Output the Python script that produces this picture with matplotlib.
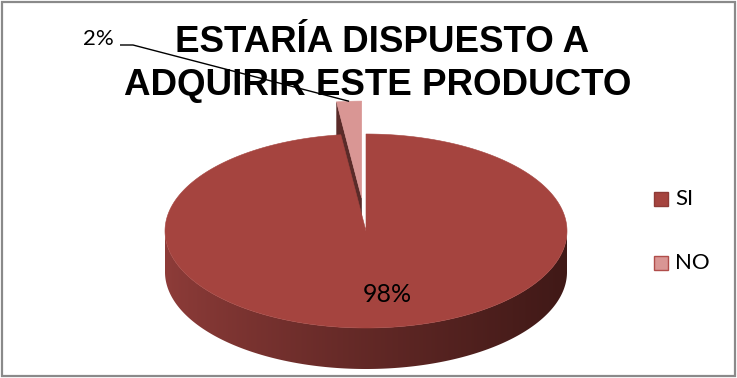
import numpy as np
import matplotlib
matplotlib.use("Agg")
import matplotlib.pyplot as plt
from matplotlib.patches import Polygon, Rectangle

# Survey answers
categories = ["SI", "NO"]
values = [98, 2]
title_lines = ["ESTARÍA DISPUESTO A", "ADQUIRIR ESTE PRODUCTO"]

# Styling
top_colors = ["#A5443F", "#D99694"]
legend_edges = ["#8E3A36", "#B04D4A"]
side_left = np.array([142, 60, 57]) / 255
side_right = np.array([64, 25, 23]) / 255
cut_face_color = "#5A2B29"
explode = [0.0, 0.34]

W, H = 737, 378
fig = plt.figure(figsize=(W / 100, H / 100), dpi=100)
ax = fig.add_axes([0, 0, 1, 1])
ax.set_xlim(0, W)
ax.set_ylim(H, 0)
ax.axis("off")

# Pie geometry (pixels): centre, radii of the top ellipse, extrusion depth
cx, cy, rx, ry, depth = 366, 231, 201, 97, 41


def pt(theta, r=1.0, off=(0.0, 0.0), z=0.0):
    t = np.radians(theta)
    return (cx + off[0] + rx * r * np.cos(t),
            cy + off[1] - ry * r * np.sin(t) + depth * z)


# Slices run clockwise from 12 o'clock
fractions = np.array(values, dtype=float) / sum(values)
spans = []
start = 90.0
for f in fractions:
    end = start - 360.0 * f
    spans.append((end, start))
    start = end

offsets = []
for (a0, a1), e in zip(spans, explode):
    mid = np.radians((a0 + a1) / 2)
    offsets.append((rx * e * np.cos(mid), -ry * e * np.sin(mid)))


def front_ranges(a0, a1):
    """Parts of [a0, a1] lying on the front half (sin < 0)."""
    out = []
    k0 = int(np.floor((a0 - 180) / 360)) - 1
    for k in range(k0, k0 + 4):
        lo, hi = 180 + 360 * k, 360 + 360 * k
        s, e = max(a0, lo), min(a1, hi)
        if e > s:
            out.append((s, e))
    return out


def draw_slice(i, z0):
    a0, a1 = spans[i]
    off = offsets[i]
    # radial cut faces that face the viewer
    for a, nrm in ((a0, a0 - 90), (a1, a1 + 90)):
        if np.sin(np.radians(nrm)) < -1e-6:
            poly = [pt(a, 0, off, 0), pt(a, 1, off, 0), pt(a, 1, off, 1), pt(a, 0, off, 1)]
            ax.add_patch(Polygon(poly, closed=True, facecolor=cut_face_color,
                                 edgecolor=cut_face_color, lw=0.3, zorder=z0))
    # curved outer wall on the front half, shaded left to right
    for s, e in front_ranges(a0, a1):
        arc = np.linspace(s, e, 300)
        poly = [pt(t, 1, off, 0) for t in arc] + [pt(t, 1, off, 1) for t in arc[::-1]]
        wall = Polygon(poly, closed=True, facecolor="none", edgecolor="none", zorder=z0 + 0.1)
        ax.add_patch(wall)
        u = np.linspace(0, 1, 512) ** 0.85
        grad = side_left[None, :] * (1 - u[:, None]) + side_right[None, :] * u[:, None]
        x0, x1 = cx + off[0] - rx, cx + off[0] + rx
        y0, y1 = cy + off[1] - ry, cy + off[1] + ry + depth
        im = ax.imshow(grad[None, :, :], extent=(x0, x1, y1, y0), aspect="auto",
                       interpolation="bilinear", zorder=z0 + 0.1)
        im.set_clip_path(wall)
    # top face
    arc = np.linspace(a0, a1, 400)
    poly = [pt(0, 0, off)] + [pt(t, 1, off) for t in arc]
    ax.add_patch(Polygon(poly, closed=True, facecolor=top_colors[i],
                         edgecolor=top_colors[i], lw=0.4, zorder=z0 + 0.2))


# the exploded slice sits behind the large one
draw_slice(1, 1)
draw_slice(0, 2)
ax.set_xlim(0, W)
ax.set_ylim(H, 0)

# Data labels
label_font = dict(family=["Lato", "DejaVu Sans"], color="black")
ax.text(387, 294, f"{values[0]}%", ha="center", va="center", fontsize=18,
        zorder=5, **label_font)
ax.text(98, 39, f"{values[1]}%", ha="center", va="center", fontsize=16,
        zorder=5, **label_font)

# Leader line to the small slice
a0, a1 = spans[1]
tip = pt((a0 + a1) / 2, 1, offsets[1])
ax.plot([120, 133, tip[0]], [45, 45, tip[1]], color="black", lw=1.0,
        solid_capstyle="butt", zorder=6)

# Title
title_font = dict(family="Liberation Sans", weight="bold", fontsize=26.5, color="black")
ax.text(382, 52, title_lines[0], ha="center", va="baseline", zorder=4, **title_font)
ax.text(378, 95, title_lines[1], ha="center", va="baseline", zorder=4, **title_font)

# Legend
for k, (name, y) in enumerate(zip(categories, [199, 263])):
    ax.add_patch(Rectangle((654, y - 7), 14, 14, facecolor=top_colors[k],
                           edgecolor=legend_edges[k], lw=1.0, zorder=5))
    ax.text(675, y, name, ha="left", va="center", fontsize=16, zorder=5, **label_font)

# Chart frame
ax.add_patch(Rectangle((2, 2), 733, 374, facecolor="none", edgecolor="#8A8A8A",
                       lw=1.6, zorder=7))

fig.savefig("out.png", dpi=100)
